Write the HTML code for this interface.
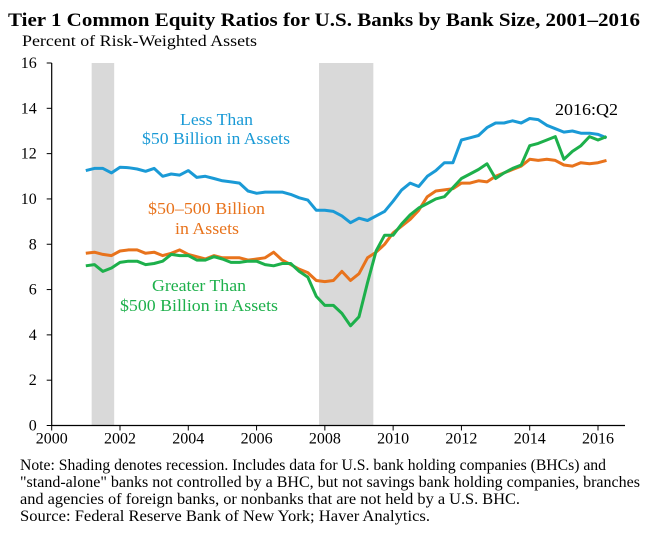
<!DOCTYPE html>
<html><head><meta charset="utf-8"><style>
body{margin:0;background:#fff;width:659px;height:532px;overflow:hidden;font-family:"Liberation Serif",serif}
svg text{font-family:"Liberation Serif",serif}
</style></head><body>
<svg id="chart" width="659" height="532" xmlns="http://www.w3.org/2000/svg">
<text x="8" y="26" font-size="19" font-weight="bold" textLength="632" lengthAdjust="spacingAndGlyphs">Tier 1 Common Equity Ratios for U.S. Banks by Bank Size, 2001–2016</text>
<text x="22" y="46" font-size="16" textLength="235" lengthAdjust="spacingAndGlyphs">Percent of Risk-Weighted Assets</text>
<g id="plot"></g>
<text fill="#1a9ad6" font-size="17" x="180" y="125" textLength="73" lengthAdjust="spacingAndGlyphs">Less Than</text>
<text fill="#1a9ad6" font-size="17" x="142" y="144" textLength="148" lengthAdjust="spacingAndGlyphs">$50 Billion in Assets</text>
<text fill="#e8731c" font-size="17" x="148" y="214" textLength="117" lengthAdjust="spacingAndGlyphs">$50–500 Billion</text>
<text fill="#e8731c" font-size="17" x="175" y="234" textLength="64" lengthAdjust="spacingAndGlyphs">in Assets</text>
<text fill="#1db04b" font-size="17" x="152" y="291" textLength="94" lengthAdjust="spacingAndGlyphs">Greater Than</text>
<text fill="#1db04b" font-size="17" x="120" y="311" textLength="158" lengthAdjust="spacingAndGlyphs">$500 Billion in Assets</text>
<text font-size="17" x="555" y="115" textLength="63" lengthAdjust="spacingAndGlyphs">2016:Q2</text>
<text font-size="15.5" x="20" y="470" textLength="586" lengthAdjust="spacingAndGlyphs">Note: Shading denotes recession. Includes data for U.S. bank holding companies (BHCs) and</text>
<text font-size="15.5" x="20" y="487" textLength="620" lengthAdjust="spacingAndGlyphs">"stand-alone" banks not controlled by a BHC, but not savings bank holding companies, branches</text>
<text font-size="15.5" x="20" y="504" textLength="500" lengthAdjust="spacingAndGlyphs">and agencies of foreign banks, or nonbanks that are not held by a U.S. BHC.</text>
<text font-size="15.5" x="20" y="521" textLength="410" lengthAdjust="spacingAndGlyphs">Source: Federal Reserve Bank of New York; Haver Analytics.</text>
</svg>
<script>
const startYear = 2001;
const recessions = [[2001.17, 2001.83], [2007.83, 2009.42]];
const xTicks = [2000, 2002, 2004, 2006, 2008, 2010, 2012, 2014, 2016];
const yTicks = [0, 2, 4, 6, 8, 10, 12, 14, 16];
const smallBanks = [11.25,11.35,11.35,11.15, 11.4,11.38,11.32,11.22, 11.35,11.0,11.1,11.05, 11.25,10.95,11.0,10.9, 10.8,10.75,10.7,10.35, 10.25,10.3,10.3,10.3, 10.2,10.05,9.95,9.5, 9.5,9.45,9.25,8.95, 9.15,9.05,9.25,9.45, 9.9,10.4,10.7,10.55, 11.0,11.25,11.6,11.6, 12.6,12.7,12.8,13.15, 13.35,13.35,13.45,13.35, 13.55,13.5,13.25,13.1, 12.95,13.0,12.9,12.9, 12.85,12.7];
const midBanks = [7.6,7.65,7.55,7.5, 7.7,7.75,7.75,7.6, 7.65,7.5,7.6,7.75, 7.55,7.45,7.35,7.5, 7.4,7.4,7.4,7.3, 7.35,7.4,7.65,7.3, 7.1,6.9,6.75,6.4, 6.35,6.4,6.8,6.4, 6.7,7.4,7.65,8.0, 8.5,8.8,9.1,9.5, 10.1,10.35,10.4,10.45, 10.7,10.7,10.8,10.75, 11.0,11.15,11.3,11.45, 11.75,11.7,11.75,11.7, 11.5,11.45,11.6,11.55, 11.6,11.7];
const largeBanks = [7.05,7.1,6.8,6.95, 7.2,7.25,7.25,7.1, 7.15,7.25,7.55,7.5, 7.5,7.3,7.3,7.45, 7.35,7.2,7.2,7.25, 7.25,7.1,7.05,7.15, 7.15,6.8,6.55,5.7, 5.3,5.3,4.95,4.4, 4.8,6.3,7.7,8.4, 8.4,8.9,9.3,9.6, 9.8,10.0,10.1,10.5, 10.9,11.1,11.3,11.55, 10.9,11.15,11.35,11.5, 12.35,12.45,12.6,12.75, 11.75,12.1,12.35,12.75, 12.6,12.75];

const NS = "http://www.w3.org/2000/svg";
const g = document.getElementById("plot");
const X0 = 51.7, X1 = 598, Y0 = 425.5, Y1 = 63, RIGHT = 625;
const xs = t => X0 + (t - 2000) * (X1 - X0) / 16;
const ys = v => Y0 - v * (Y0 - Y1) / 16;
function mk(tag, attrs) { const e = document.createElementNS(NS, tag); for (const k in attrs) e.setAttribute(k, attrs[k]); g.appendChild(e); return e; }

recessions.forEach(r => {
  const e = mk("rect", {x: xs(r[0]), y: Y1, width: xs(r[1]) - xs(r[0]), height: Y0 - Y1, fill: "#d9d9d9"});
  
  
});
let ax = mk("line", {x1: X0, y1: Y1, x2: X0, y2: Y0, stroke: "#000", "stroke-width": 1.2});


ax = mk("line", {x1: X0, y1: Y0, x2: RIGHT, y2: Y0, stroke: "#000", "stroke-width": 1.2});


yTicks.forEach(v => {
  mk("line", {x1: X0 - 5, y1: ys(v), x2: X0, y2: ys(v), stroke: "#000"});
  const t = mk("text", {x: X0 - 15, y: ys(v) + 5, "font-size": 16, "text-anchor": "end"});
  t.textContent = v;
  
  
});
xTicks.forEach(v => {
  mk("line", {x1: xs(v), y1: Y0, x2: xs(v), y2: Y0 + 5, stroke: "#000"});
  const t = mk("text", {x: xs(v), y: Y0 + 18, "font-size": 16, "text-anchor": "middle"});
  t.textContent = v;
  
  
});
function line(data, color, name) {
  const pts = data.map((v, i) => xs(startYear + i / 4).toFixed(1) + "," + ys(v).toFixed(1)).join(" ");
  const p = mk("polyline", {points: pts, fill: "none", stroke: color, "stroke-width": 3, "stroke-linejoin": "round"});
  
  
}
line(smallBanks, "#1a9ad6", "series-less-than-50b");
line(midBanks, "#e8731c", "series-50-500b");
line(largeBanks, "#1db04b", "series-greater-than-500b");
</script>
</body></html>
